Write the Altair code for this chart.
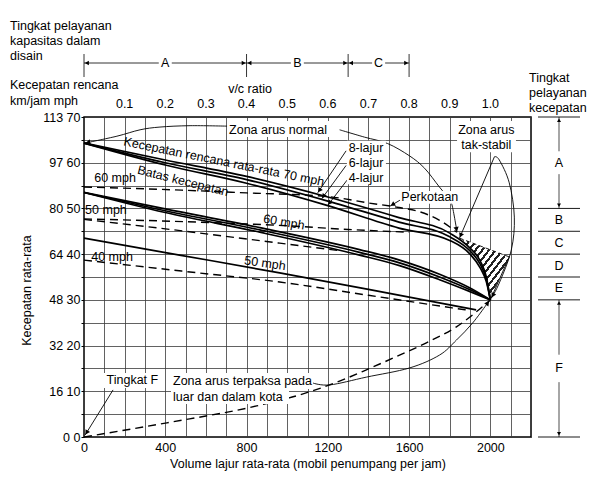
import json
import math
import altair as alt
import pandas as pd

F = "Liberation Sans"

# ---------------- data (volume in pcu/h/lane, speed in mph) ----------------
vol_70 = [0, 400, 800, 1200, 1550, 1800, 1900, 1950, 1980, 2000]
mph_8lane = [64.3, 60.6, 57.0, 52.5, 48.0, 44.6, 41.3, 38.5, 35.0, 30.0]
mph_6lane = [64.3, 60.0, 56.3, 51.6, 47.0, 43.8, 40.7, 37.8, 34.5, 30.0]
mph_4lane = [64.3, 59.5, 55.5, 50.6, 45.7, 43.0, 40.0, 37.0, 34.0, 30.0]

vol_60 = [0, 400, 865, 1356, 1553, 1750, 1900, 2000]
mph_60a = [53.5, 49.9, 45.8, 41.0, 38.7, 35.6, 32.6, 30.0]
mph_60b = [53.5, 49.5, 45.3, 40.4, 38.1, 35.0, 32.2, 30.0]
mph_60c = [53.5, 49.1, 44.8, 39.8, 37.5, 34.4, 31.8, 30.0]

vol_50 = [0, 470, 963, 1400, 1930]
mph_50 = [43.5, 39.8, 35.9, 32.3, 27.8]

vol_lim60 = [0, 480, 800, 1200, 1400, 1550, 1650, 1750, 1835]
mph_lim60 = [54.7, 54.0, 53.4, 52.6, 51.2, 50.2, 49.3, 47.4, 44.8]
vol_lim50 = [0, 500, 1000, 1300, 1600]
mph_lim50 = [47.7, 47.1, 46.2, 45.4, 44.8]
vol_lim50b = [0, 500, 963, 1250]
mph_lim50b = [47.6, 45.0, 42.4, 40.8]
vol_lim40 = [0, 480, 963, 1400, 1880]
mph_lim40 = [38.7, 36.3, 33.9, 31.0, 27.8]

vol_forced = [0, 408, 850, 1061, 1273, 1390, 1553, 1685, 1833, 2000]
mph_forced = [0, 3.1, 6.8, 9.2, 12.5, 14.7, 17.9, 20.6, 24.1, 30.0]

# unstable (hatched) zone
hatch_mph = [30.0, 32.0, 35.0, 38.5, 39.4, 41.3, 43.2]
hatch_left = [2000, 1992, 1980, 1950, 1940, 1900, 1862]
hatch_right = [2000, 2016, 2049, 2084, 2093, 1981, 1866]

# axis ticks / labels
x_grid = list(range(0, 2201, 100))
y_grid = list(range(0, 71, 5))
kmh_labels = ["0", "16", "32", "48", "64", "80", "97", "113"]
vc_values = [0.1, 0.2, 0.3, 0.4, 0.5, 0.6, 0.7, 0.8, 0.9, 1.0]
capacity = 2000

# level of service (capacity in design), v/c boundaries
los_cap_names = ["A", "B", "C"]
los_cap_bounds = [0.0, 0.4, 0.65, 0.8]
# level of service (speed), mph boundaries
los_speed_names = ["A", "B", "C", "D", "E", "F"]
los_speed_bounds = [70, 50, 45, 40, 35, 30, 0]

# ---------------- layout ----------------
W, H = 447, 320
XMAX, YMAX = 2200, 70
kx, ky = W / XMAX, H / YMAX

xs = alt.Scale(domain=[0, XMAX], nice=False, zero=False)
ys = alt.Scale(domain=[0, YMAX], nice=False, zero=False)
xaxis = alt.Axis(values=x_grid, format="d",
                 labelExpr="datum.value % 400 == 0 && datum.value <= 2000 ? datum.label : ''",
                 title="Volume lajur rata-rata (mobil penumpang per jam)",
                 grid=True, domain=False, ticks=False, labelPadding=4, titlePadding=4,
                 labelFlush=False)
yaxis = alt.Axis(values=y_grid, format="d",
                 labelExpr="datum.value % 10 == 0 ? " + json.dumps(kmh_labels)
                 + "[datum.value / 10] + '  ' + datum.label : ''",
                 title="Kecepatan rata-rata", titleX=-51, titleY=173,
                 grid=True, domain=False, ticks=True, tickSize=3, tickColor="black",
                 labelPadding=1, labelFlush=False)


def X(f="vol"):
    return alt.X(f + ":Q", scale=xs, axis=xaxis)


def Y(f="mph"):
    return alt.Y(f + ":Q", scale=ys, axis=yaxis)


def series(rows, name, vols, mphs):
    for i, (v, m) in enumerate(zip(vols, mphs)):
        rows.append(dict(s=name, i=i, vol=v, mph=m))


def lines_chart(df, **mark):
    return alt.Chart(df).mark_line(color="black", **mark).encode(
        x=X(), y=Y(), detail="s:N", order="i:Q")


def arrow_row(tip, frm, back=3.0):
    dxp = (tip[0] - frm[0]) * kx
    dyp = -(tip[1] - frm[1]) * ky
    L = math.hypot(dxp, dyp)
    ux, uy = dxp / L, dyp / L
    ang = math.degrees(math.atan2(ux, -uy)) % 360
    return dict(vol=tip[0] - ux * back / kx, mph=tip[1] + uy * back / ky, angle=ang)


layers = []

# white boxes behind labels
boxes = pd.DataFrame([
    dict(vol=714, vol2=1206, mph=65.6, mph2=69.1),
    dict(vol=1836, vol2=2126, mph=62.3, mph2=69.1),
    dict(vol=1294, vol2=1486, mph=55.3, mph2=64.8),
    dict(vol=1560, vol2=1845, mph=51.0, mph2=53.8),
    dict(vol=94, vol2=384, mph=10.7, mph2=14.0),
    dict(vol=428, vol2=1122, mph=10.5, mph2=14.0),
    dict(vol=428, vol2=1009, mph=7.2, mph2=10.5),
])

# hatched area
n = 14
stops = []
for k in range(n):
    a, b, c = k / n, (k + 0.4) / n, (k + 1) / n
    stops += [alt.GradientStop(color="#222222", offset=a), alt.GradientStop(color="#222222", offset=b),
              alt.GradientStop(color="white", offset=b), alt.GradientStop(color="white", offset=c)]
hatch_fill = alt.Gradient(gradient="linear", stops=stops, x1=0, y1=0, x2=1, y2=1)
hatch_df = pd.DataFrame(dict(mph=hatch_mph, vol=hatch_left, vol2=hatch_right))
layers.append(alt.Chart(hatch_df).mark_area(orient="horizontal", color=hatch_fill).encode(
    y=Y(), x=X(), x2="vol2:Q"))

# thick solid design-speed curves
rows = []
series(rows, "l8", vol_70, mph_8lane)
series(rows, "l6", vol_70, mph_6lane)
series(rows, "l4", vol_70, mph_4lane)
series(rows, "g60a", vol_60, mph_60a)
series(rows, "g60b", vol_60, mph_60b)
series(rows, "g60c", vol_60, mph_60c)
series(rows, "g50", vol_50, mph_50)
layers.append(lines_chart(pd.DataFrame(rows), strokeWidth=1.7, interpolate="monotone"))

# dashed speed-limit and forced flow curves
rows = []
series(rows, "lim60", vol_lim60, mph_lim60)
series(rows, "lim50", vol_lim50, mph_lim50)
series(rows, "lim50b", vol_lim50b, mph_lim50b)
series(rows, "lim40", vol_lim40, mph_lim40)
series(rows, "forced", vol_forced, mph_forced)
layers.append(lines_chart(pd.DataFrame(rows), strokeWidth=1.4, strokeDash=[8, 5], interpolate="monotone"))

# thin leaders
leaders = {
    "normal_left": ([704, 522, 374, 276, 162, 5], [68.0, 68.1, 67.8, 67.2, 65.8, 64.3]),
    "normal_right": ([1258, 1380, 1494, 1602, 1676, 1749, 1790, 1811, 1836],
                     [67.2, 65.6, 64.2, 61.5, 58.8, 54.7, 52.5, 50.8, 44.8]),
    "unstable_a": ([2020, 1848], [61.3, 43.5]),
    "unstable_b": ([2020, 2044, 2093, 2118, 2103, 2044, 2005], [61.3, 60.6, 55.6, 48.1, 40.9, 33.7, 30.4]),
    "forced_lead": ([1127, 1211, 1390, 1602, 1749, 1833, 1912, 1980, 1996],
                    [11.8, 11.4, 13.1, 15.1, 17.9, 21.2, 24.9, 28.9, 29.8]),
    "perkotaan": ([1555, 1506], [51.8, 50.5]),
    "tingkatF": ([143, 5], [10.3, 0.4]),
    "lane8": ([1290, 1150], [62.6, 53.4]),
    "lane6": ([1290, 1170], [59.4, 52.1]),
    "lane4": ([1295, 1200], [56.2, 50.7]),
    "hatch_right": ([2093, 2000], [39.4, 30.0]),
}
rows = []
for k, (v, m) in leaders.items():
    series(rows, k, v, m)
layers.append(lines_chart(pd.DataFrame(rows), strokeWidth=0.9, interpolate="cardinal"))
rows = []
series(rows, "hatch_top", [1848, 2093], [43.5, 39.4])
layers.append(lines_chart(pd.DataFrame(rows), strokeWidth=0.9, strokeDash=[4, 3]))

# arrowheads
heads = []
for k in ["normal_left", "normal_right", "unstable_a", "unstable_b", "forced_lead",
          "perkotaan", "tingkatF", "lane8", "lane6", "lane4"]:
    v, m = leaders[k]
    heads.append(arrow_row((v[-1], m[-1]), (v[-2], m[-2])))
layers.append(alt.Chart(pd.DataFrame(heads)).mark_point(
    shape="triangle-up", filled=True, color="black", size=28, opacity=1).encode(
    x=X(), y=Y(), angle=alt.Angle("angle:Q", scale=None)))

# boxes on top of lines where labels sit
layers.append(alt.Chart(boxes).mark_rect(color="white").encode(
    x=X(), x2="vol2:Q", y=Y(), y2="mph2:Q"))

# in-plot labels
lab_c = pd.DataFrame([
    dict(vol=955, mph=67.2, t="Zona arus normal", a=0),
    dict(vol=1388, mph=63.2, t="8-lajur", a=0),
    dict(vol=1388, mph=59.9, t="6-lajur", a=0),
    dict(vol=1388, mph=56.7, t="4-lajur", a=0),
    dict(vol=1702, mph=52.4, t="Perkotaan", a=0),
    dict(vol=1980, mph=67.2, t="Zona arus", a=0),
    dict(vol=1980, mph=63.9, t="tak-stabil", a=0),
    dict(vol=153, mph=56.7, t="60 mph", a=0),
    dict(vol=108, mph=49.7, t="50 mph", a=0),
    dict(vol=138, mph=39.4, t="40 mph", a=0),
    dict(vol=238, mph=12.4, t="Tingkat F", a=0),
    dict(vol=689, mph=60.2, t="Kecepatan rencana rata-rata 70 mph", a=11.5),
    dict(vol=487, mph=56.0, t="Batas kecepatan", a=14),
    dict(vol=984, mph=47.0, t="60 mph", a=10),
    dict(vol=891, mph=38.0, t="50 mph", a=8),
])
layers.append(alt.Chart(lab_c).mark_text(font=F, fontSize=12.5, color="black", align="center",
                                         baseline="middle").encode(
    x=X(), y=Y(), text="t:N", angle=alt.Angle("a:Q", scale=None)))
lab_l = pd.DataFrame([
    dict(vol=438, mph=12.2, t="Zona arus terpaksa pada"),
    dict(vol=438, mph=8.8, t="luar dan dalam kota"),
])
layers.append(alt.Chart(lab_l).mark_text(font=F, fontSize=12.5, color="black", align="left",
                                         baseline="middle").encode(x=X(), y=Y(), text="t:N"))

# top v/c ratio labels
vc_df = pd.DataFrame(dict(vol=[v * capacity for v in vc_values], t=[f"{v:.1f}" for v in vc_values]))
layers.append(alt.Chart(vc_df).mark_text(font=F, fontSize=12.5, color="black", baseline="middle").encode(
    x=X(), y=alt.value(-13), text="t:N"))

# capacity level-of-service dimension line (A, B, C)
dim_y = -54
cap_vols = [b * capacity for b in los_cap_bounds]
segs, tri, letters = [], [], []
gap = 32
for k, name in enumerate(los_cap_names):
    a, b = cap_vols[k], cap_vols[k + 1]
    mid = (a + b) / 2
    segs += [dict(vol=a, vol2=mid - gap), dict(vol=mid + gap, vol2=b)]
    letters.append(dict(vol=mid, t=name))
    tri += [dict(vol=a + 14, sh="triangle-left"), dict(vol=b - 14, sh="triangle-right")]
layers.append(alt.Chart(pd.DataFrame(segs)).mark_rule(color="black", strokeWidth=0.8).encode(
    x=X(), x2="vol2:Q", y=alt.value(dim_y)))
layers.append(alt.Chart(pd.DataFrame(dict(vol=cap_vols))).mark_rule(color="black", strokeWidth=0.8).encode(
    x=X(), y=alt.value(dim_y - 9), y2=alt.value(dim_y + 14)))
layers.append(alt.Chart(pd.DataFrame(tri)).mark_point(filled=True, color="black", size=22, opacity=1).encode(
    x=X(), y=alt.value(dim_y), shape=alt.Shape("sh:N", scale=None)))
layers.append(alt.Chart(pd.DataFrame(letters)).mark_text(font=F, fontSize=12.5, color="black",
                                                         baseline="middle").encode(
    x=X(), y=alt.value(dim_y), text="t:N"))

# speed level-of-service ladder on the right
lad_x1, lad_x2, lad_xc = 454, 496, 475
layers.append(alt.Chart(pd.DataFrame(dict(mph=los_speed_bounds))).mark_rule(color="black", strokeWidth=0.9).encode(
    y=Y(), x=alt.value(lad_x1), x2=alt.value(lad_x2)))
lad_lab = [dict(mph=(los_speed_bounds[k] + los_speed_bounds[k + 1]) / 2, t=n_)
           for k, n_ in enumerate(los_speed_names)]
lad_lab[-1]["mph"] = 15
layers.append(alt.Chart(pd.DataFrame(lad_lab)).mark_text(font=F, fontSize=12.5, color="black",
                                                         baseline="middle").encode(
    y=Y(), x=alt.value(lad_xc), text="t:N"))
lad_arrows = pd.DataFrame([
    dict(mph=70, mph2=62.5), dict(mph=57.5, mph2=50),
    dict(mph=30, mph2=18), dict(mph=12, mph2=0),
])
layers.append(alt.Chart(lad_arrows).mark_rule(color="black", strokeWidth=0.7).encode(
    y=Y(), y2="mph2:Q", x=alt.value(lad_xc)))
lad_tri = pd.DataFrame([
    dict(mph=70 - 0.7, sh="triangle-up"), dict(mph=50 + 0.7, sh="triangle-down"),
    dict(mph=30 - 0.7, sh="triangle-up"), dict(mph=0 + 0.7, sh="triangle-down"),
])
layers.append(alt.Chart(lad_tri).mark_point(filled=True, color="black", size=16, opacity=1).encode(
    y=Y(), x=alt.value(lad_xc), shape=alt.Shape("sh:N", scale=None)))

# header texts (outside plot)
dummy = pd.DataFrame({"d": [0]})
headers = [
    ("Tingkat pelayanan", -74, -91, "left"),
    ("kapasitas dalam", -74, -76, "left"),
    ("disain", -74, -61, "left"),
    ("Kecepatan rencana", -74, -32, "left"),
    ("km/jam  mph", -74, -16, "left"),
    ("v/c ratio", 166, -28, "center"),
    ("Tingkat", 445, -39, "left"),
    ("pelayanan", 445, -24, "left"),
    ("kecepatan", 445, -9, "left"),
]
for t, hx, hy, al in headers:
    layers.append(alt.Chart(dummy).mark_text(text=t, font=F, fontSize=12.5, color="black", align=al,
                                             baseline="middle").encode(x=alt.value(hx), y=alt.value(hy)))

chart = alt.layer(*layers).properties(
    width=W, height=H,
    autosize=alt.AutoSizeParams(type="none"),
    padding={"left": 76, "top": 109, "right": 74, "bottom": 34},
).configure_axis(
    labelFont=F, labelFontSize=12.5, labelColor="black",
    titleFont=F, titleFontSize=12.5, titleFontWeight="normal", titleColor="black",
    gridColor="#3a3a3a", gridWidth=0.8, gridOpacity=1,
).configure_view(stroke="black", strokeWidth=1.5)

chart.save("out.html", embed_options={"renderer": "svg", "actions": False})
